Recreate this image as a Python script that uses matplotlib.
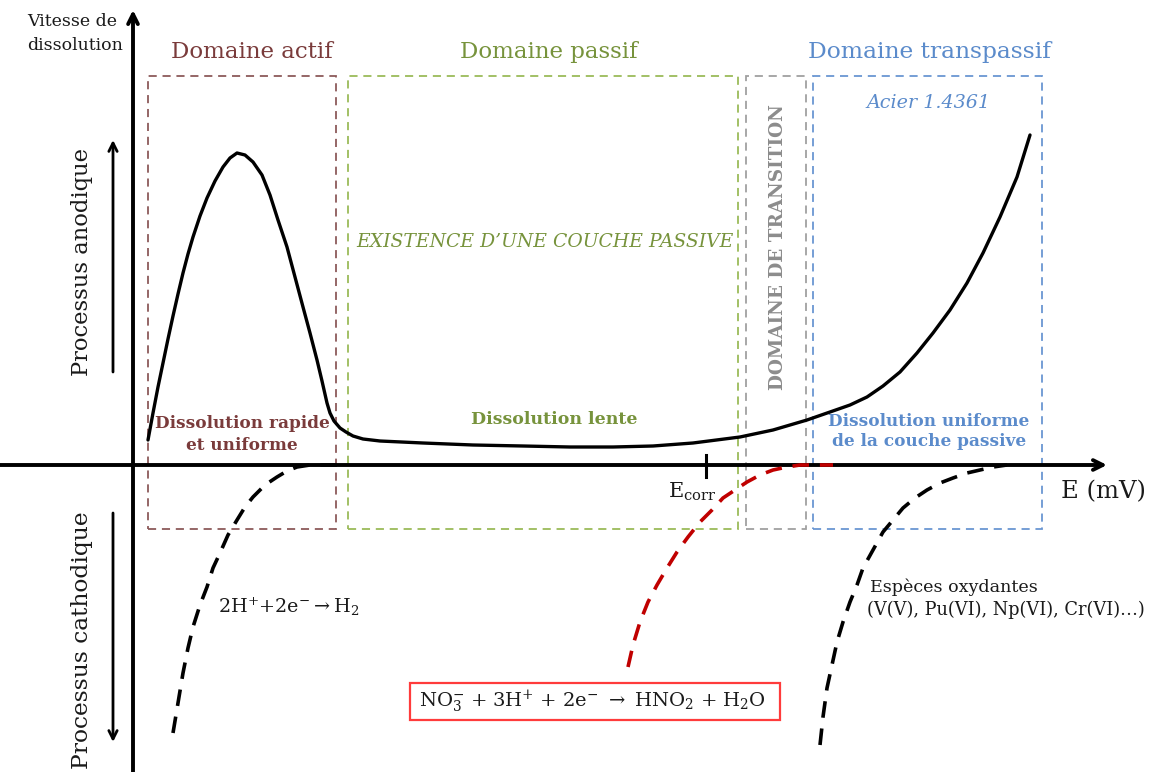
import matplotlib
matplotlib.use("Agg")
import matplotlib.pyplot as plt
from matplotlib.patches import Rectangle
from matplotlib.transforms import Affine2D

plt.rcParams['font.family'] = ['DejaVu Serif']
plt.rcParams['mathtext.fontset'] = 'dejavuserif'

# ---- data (E in arbitrary mV units from origin, i = dissolution rate) ----
anodic_E = [15, 20, 25, 30, 35, 40, 45, 50, 55, 60, 67, 74, 82, 90, 97, 104, 112, 120, 129, 137,
            145, 154, 162, 170, 177, 184, 189, 194, 197, 201, 207, 213, 220, 230, 247,
            290, 340, 390, 437, 480, 520, 560, 607, 640, 674, 697, 717, 734, 750, 767, 784,
            800, 817, 834, 850, 867, 884, 897]
anodic_i = [25, 52, 78, 102, 126, 149, 171, 192, 211, 228, 249, 267, 284, 298, 307, 312, 310, 303, 290, 270,
            245, 218, 188, 158, 132, 105, 84, 62, 52, 44, 37, 33, 29, 26, 24,
            22, 20, 19, 18, 18, 19, 22, 28, 35, 45, 53, 60, 68, 79, 93, 112,
            132, 155, 182, 212, 248, 288, 330]

h2_E = [40, 45, 50, 55, 60, 67, 74, 80, 87, 95, 104, 112, 120, 132, 144, 154, 164, 177, 190, 204]
h2_i = [-268, -238, -208, -183, -162, -140, -122, -103, -88, -70, -55, -42, -32, -20, -12, -6, -2, 0, 0, 0]

no3_E = [495, 500, 507, 515, 524, 534, 544, 555, 567, 579, 590, 602, 614, 627, 640, 654, 667, 684, 700]
no3_i = [-202, -180, -157, -137, -120, -103, -87, -72, -57, -45, -33, -25, -17, -10, -5, -2, 0, 0, 0]

ox_E = [687, 690, 694, 699, 704, 710, 717, 724, 730, 740, 750, 760, 770, 782, 794, 807, 820, 834, 847, 860, 874]
ox_i = [-280, -252, -223, -200, -177, -157, -137, -120, -103, -85, -67, -55, -43, -33, -25, -18, -13, -8, -5, -2, 0]

domain_names = ["Domaine actif", "Domaine passif", "transition", "Domaine transpassif"]
domain_start = [15, 215, 613, 680]
domain_end = [203, 605, 673, 909]
domain_top = 389
domain_bottom = -64
E_corr = 573

# ---- styles ----
c_brown_txt = '#7A3B3B'
c_brown_box = '#8C5A5A'
c_green_txt = '#77933C'
c_green_box = '#9BBB59'
c_gray_txt = '#8C8C8C'
c_gray_box = '#A0A0A0'
c_blue_txt = '#5B8BCB'
c_blue_box = '#6A96D2'
box_colors = [c_brown_box, c_green_box, c_gray_box, c_blue_box]
ink = '#1a1a1a'

fig = plt.figure(figsize=(11.58, 7.72), dpi=100)
ax = fig.add_axes([0, 0, 1, 1])
ax.set_xlim(-133, 1025)
ax.set_ylim(-307, 465)
ax.axis('off')

# pixel transform (origin top-left) for annotations
pix = Affine2D().scale(1 / 100, -1 / 100).translate(0, 7.72) + fig.dpi_scale_trans

# domain boxes
for s, e, col in zip(domain_start, domain_end, box_colors):
    ax.add_patch(Rectangle((s, domain_bottom), e - s, domain_top - domain_bottom,
                           fill=False, edgecolor=col, lw=1.3,
                           linestyle=(0, (4.5, 3.2)), zorder=2))

# axes with arrows
ax.annotate('', xy=(0, 455), xytext=(0, -310),
            arrowprops=dict(arrowstyle='->,head_length=0.7,head_width=0.35', lw=2.8, color='black',
                            shrinkA=0, shrinkB=0), zorder=5)
ax.annotate('', xy=(974, 0), xytext=(-135, 0),
            arrowprops=dict(arrowstyle='->,head_length=0.7,head_width=0.35', lw=2.8, color='black',
                            shrinkA=0, shrinkB=0), zorder=5)

# E_corr tick
ax.plot([E_corr, E_corr], [-12, 10], color='black', lw=2.2, zorder=5)

# curves
ax.plot(anodic_E, anodic_i, color='black', lw=2.4, solid_capstyle='round',
        solid_joinstyle='round', zorder=6)
dash = (0, (4.6, 3.0))
ax.plot(h2_E, h2_i, color='black', lw=2.6, linestyle=dash, zorder=6)
ax.plot(no3_E, no3_i, color='#C00000', lw=2.6, linestyle=dash, zorder=6)
ax.plot(ox_E, ox_i, color='black', lw=2.6, linestyle=dash, zorder=6)

# side arrows
ax.annotate('', xy=(113, 140), xytext=(113, 372), xycoords=pix, textcoords=pix,
            arrowprops=dict(arrowstyle='->,head_length=0.6,head_width=0.3', lw=2, color='black',
                            shrinkA=0, shrinkB=0))
ax.annotate('', xy=(113, 742), xytext=(113, 513), xycoords=pix, textcoords=pix,
            arrowprops=dict(arrowstyle='->,head_length=0.6,head_width=0.3', lw=2, color='black',
                            shrinkA=0, shrinkB=0))

# texts
def T(x, y, s, **kw):
    kw.setdefault('ha', 'center')
    kw.setdefault('va', 'center')
    ax.text(x, y, s, transform=pix, **kw)

T(27, 22, 'Vitesse de', ha='left', fontsize=12.5, color=ink)
T(27, 45, 'dissolution', ha='left', fontsize=12.5, color=ink)
T(82, 262, 'Processus anodique', rotation=90, fontsize=16.3, color=ink)
T(82, 640, 'Processus cathodique', rotation=90, fontsize=16.8, color=ink)

T(252, 52, 'Domaine actif', fontsize=16.5, color=c_brown_txt)
T(549, 52, 'Domaine passif', fontsize=16.5, color=c_green_txt)
T(930, 52, 'Domaine transpassif', fontsize=16.8, color=c_blue_txt)

T(928, 103, 'Acier 1.4361', fontsize=13.8, style='italic', color=c_blue_txt)
T(545, 242, 'EXISTENCE D\u2019UNE COUCHE PASSIVE', fontsize=13.5, style='italic', color=c_green_txt)
T(778, 247, 'DOMAINE DE TRANSITION', rotation=90, fontsize=13.2, fontweight='bold', color=c_gray_txt)

T(242, 424, 'Dissolution rapide', fontsize=12.2, fontweight='bold', color=c_brown_txt)
T(242, 446, 'et uniforme', fontsize=12.2, fontweight='bold', color=c_brown_txt)
T(554, 420, 'Dissolution lente', fontsize=12.5, fontweight='bold', color=c_green_txt)
T(929, 421, 'Dissolution uniforme', fontsize=12.2, fontweight='bold', color=c_blue_txt)
T(929, 442, 'de la couche passive', fontsize=12.2, fontweight='bold', color=c_blue_txt)

T(692, 492, r'E$_{\mathrm{corr}}$', fontsize=15, color=ink)
T(1103, 492, 'E (mV)', fontsize=17.5, color=ink)

T(218, 607, r'2H$^{+}$+2e$^{-}$$\rightarrow$H$_{2}$', ha='left', fontsize=13.8, color=ink)
T(870, 587, 'Esp\u00e8ces oxydantes', ha='left', fontsize=12.6, color=ink)
T(867, 610, '(V(V), Pu(VI), Np(VI), Cr(VI)\u2026)', ha='left', fontsize=12.8, color=ink)

ax.add_patch(Rectangle((410, 683), 370, 37, transform=pix, fill=False,
                       edgecolor='#FF3B3B', lw=1.6, zorder=7))
T(592, 702, r'NO$_{3}^{-}$ + 3H$^{+}$ + 2e$^{-}$ $\rightarrow$ HNO$_{2}$ + H$_{2}$O', fontsize=14,
  color=ink)

fig.savefig('out.png', dpi=100)
